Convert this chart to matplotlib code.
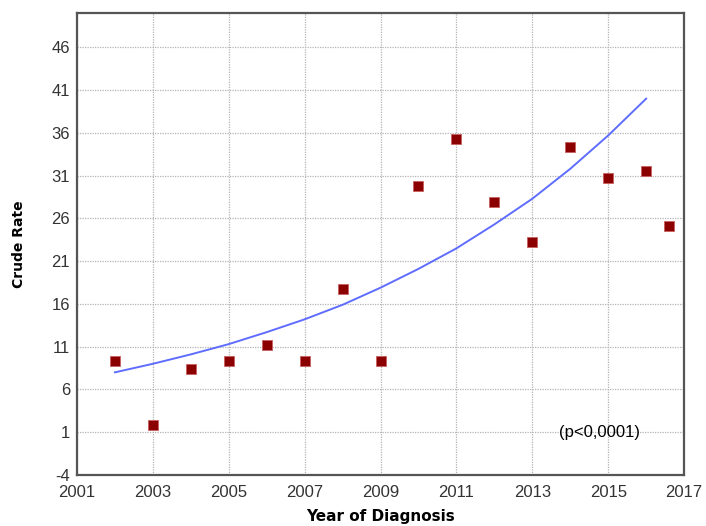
import matplotlib
matplotlib.use("Agg")
import matplotlib.pyplot as plt

# Crude rate by year of diagnosis
years = [2002, 2003, 2004, 2005, 2006, 2007, 2008, 2009,
         2010, 2011, 2012, 2013, 2014, 2015, 2016, 2016.6]
rates = [9.3, 1.8, 8.4, 9.3, 11.2, 9.3, 17.7, 9.3,
         29.8, 35.3, 27.9, 23.2, 34.3, 30.7, 31.5, 25.1]

# Fitted trend at each year
trend_years = [2002, 2003, 2004, 2005, 2006, 2007, 2008, 2009,
               2010, 2011, 2012, 2013, 2014, 2015, 2016]
trend_rates = [8.0, 9.0, 10.1, 11.3, 12.7, 14.2, 15.9, 17.9,
               20.1, 22.5, 25.3, 28.3, 31.8, 35.7, 40.0]

x_ticks = [2001, 2003, 2005, 2007, 2009, 2011, 2013, 2015, 2017]
y_ticks = [-4, 1, 6, 11, 16, 21, 26, 31, 36, 41, 46]

plt.rcParams["font.family"] = ["Liberation Sans", "DejaVu Sans"]
plt.rcParams["axes.unicode_minus"] = False

fig = plt.figure(figsize=(7.06, 5.26), dpi=100)
ax = fig.add_axes([0.109, 0.097, 0.860, 0.878])

ax.plot(trend_years, trend_rates, color="#5f6dff", linewidth=1.4, zorder=3)
ax.plot(years, rates, linestyle="none", marker="s", markersize=7,
        markerfacecolor="#8b0000", markeredgecolor="#c86060",
        markeredgewidth=0.6, zorder=4)

ax.set_xlim(2001, 2017)
ax.set_ylim(-4, 50)
ax.set_xticks(x_ticks)
ax.set_yticks(y_ticks)
ax.tick_params(axis="both", length=0, labelsize=12, colors="#333333")
ax.tick_params(axis="x", pad=7)
ax.tick_params(axis="y", pad=5)

ax.grid(True, linestyle=(0, (1, 1)), color="#b4b4b4", linewidth=0.9)
ax.set_axisbelow(True)
for side in ["left", "bottom", "top", "right"]:
    ax.spines[side].set_color("#555555")
    ax.spines[side].set_linewidth(1.6)

ax.set_xlabel("Year of Diagnosis", family="DejaVu Sans", fontweight="bold",
              fontsize=11, labelpad=7)
ax.set_ylabel("Crude Rate", family="DejaVu Sans", fontweight="bold",
              fontsize=10, labelpad=18)

ax.text(2013.7, 1, "(p<0,0001)", fontsize=12, color="black", va="center")

fig.savefig("out.png", dpi=100)
